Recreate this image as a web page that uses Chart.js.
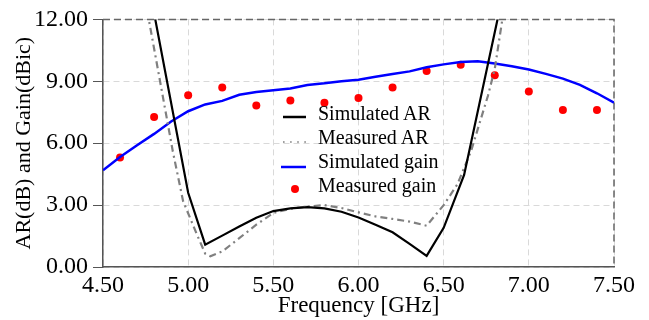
<!DOCTYPE html>
<html>
<head>
<meta charset="utf-8">
<script src="https://cdn.jsdelivr.net/npm/chart.js@4.4.1/dist/chart.umd.min.js"></script>
<style>
  body { margin: 0; background: #fff; }
  #wrap { position: relative; width: 649px; height: 320px; }
  #legend { position: absolute; left: 280px; top: 101px; font: 20px "Liberation Serif", "Times New Roman", serif; color: #000; }
  #legend .row { position: relative; height: 24px; line-height: 24px; padding-left: 38px; white-space: nowrap; }
  #legend svg { position: absolute; left: 0; top: 0; }
</style>
</head>
<body>
<div id="wrap">
  <canvas id="arChart" width="649" height="320"></canvas>
  <div id="legend"></div>
</div>
<script>
// values (frequency in GHz)
const simArFreq = [4.80, 5.00, 5.10, 5.20, 5.30, 5.40, 5.50, 5.60, 5.70, 5.80, 5.90, 6.00, 6.10, 6.20, 6.30, 6.40, 6.50, 6.62, 6.85];
const simArVal  = [12.3, 3.60, 1.08, 1.52, 1.96, 2.39, 2.71, 2.84, 2.90, 2.84, 2.68, 2.40, 2.05, 1.68, 1.12, 0.54, 1.90, 4.46, 13.3];

const measArFreq = [4.76, 4.91, 4.97, 5.05, 5.10, 5.13, 5.20, 5.30, 5.40, 5.50, 5.60, 5.70, 5.80, 5.90, 6.00, 6.10, 6.20, 6.30, 6.40, 6.50, 6.58, 6.66, 6.76, 6.80, 6.85];
const measArVal  = [12.4, 5.60, 3.20, 1.60, 0.65, 0.52, 0.75, 1.40, 2.05, 2.62, 2.82, 2.93, 3.00, 2.86, 2.65, 2.45, 2.33, 2.20, 2.00, 3.00, 4.00, 5.60, 8.30, 9.60, 12.3];

const simGainFreq = [4.50, 4.60, 4.70, 4.80, 4.90, 5.00, 5.10, 5.20, 5.30, 5.40, 5.50, 5.60, 5.70, 5.80, 5.90, 6.00, 6.10, 6.20, 6.30, 6.40, 6.50, 6.60, 6.70, 6.80, 6.90, 7.00, 7.10, 7.20, 7.30, 7.40, 7.50];
const simGainVal  = [4.69, 5.33, 5.90, 6.45, 7.05, 7.55, 7.88, 8.05, 8.35, 8.48, 8.57, 8.65, 8.82, 8.90, 9.00, 9.08, 9.22, 9.35, 9.48, 9.68, 9.82, 9.93, 9.97, 9.86, 9.73, 9.57, 9.36, 9.13, 8.83, 8.42, 7.97];

const measGainFreq = [4.6, 4.8, 5.0, 5.2, 5.4, 5.6, 5.8, 6.0, 6.2, 6.4, 6.6, 6.8, 7.0, 7.2, 7.4];
const measGainVal  = [5.31, 7.27, 8.32, 8.70, 7.83, 8.07, 7.96, 8.19, 8.70, 9.50, 9.80, 9.29, 8.50, 7.61, 7.61];

const xTicks = [4.5, 5.0, 5.5, 6.0, 6.5, 7.0, 7.5];
const yTicks = [0, 3, 6, 9, 12];

const serif = '"Liberation Serif", "Times New Roman", serif';
const toPts = (xs, ys) => xs.map((x, i) => ({ x: x, y: ys[i] }));

// dashed top and right edges of the plot box
const frameEdges = {
  id: 'frameEdges',
  beforeDatasetsDraw(chart) {
    const { ctx, chartArea: a } = chart;
    ctx.save();
    ctx.strokeStyle = '#666';
    ctx.lineWidth = 1.5;
    ctx.setLineDash([7, 4]);
    ctx.beginPath();
    ctx.moveTo(a.left, a.top);
    ctx.lineTo(a.right, a.top);
    ctx.lineTo(a.right, a.bottom);
    ctx.stroke();
    ctx.restore();
  }
};

const chart = new Chart(document.getElementById('arChart'), {
  type: 'scatter',
  data: {
    datasets: [
      { label: 'Simulated AR', data: toPts(simArFreq, simArVal), showLine: true, borderColor: '#000', borderWidth: 2.2, pointRadius: 0, tension: 0 },
      { label: 'Measured AR', data: toPts(measArFreq, measArVal), showLine: true, borderColor: '#808080', borderWidth: 2.2, borderDash: [7, 4, 2, 4], pointRadius: 0, tension: 0 },
      { label: 'Simulated gain', data: toPts(simGainFreq, simGainVal), showLine: true, borderColor: '#0000ff', borderWidth: 2.5, pointRadius: 0, tension: 0 },
      { label: 'Measured gain', data: toPts(measGainFreq, measGainVal), showLine: false, pointRadius: 4, pointBackgroundColor: '#ff0000', pointBorderWidth: 0, borderColor: '#ff0000' }
    ]
  },
  options: {
    responsive: false,
    animation: false,
    devicePixelRatio: 1,
    layout: { padding: { top: 15, right: 35, left: 0, bottom: 0 } },
    plugins: { legend: { display: false }, tooltip: { enabled: false } },
    scales: {
      x: {
        type: 'linear', min: 4.5, max: 7.5,
        afterBuildTicks: s => { s.ticks = xTicks.map(v => ({ value: v })); },
        afterFit: s => { s.height = 53; },
        ticks: { callback: v => v.toFixed(2), font: { family: serif, size: 24 }, color: '#000', padding: 4, maxRotation: 0, autoSkip: false },
        grid: { color: '#d9d9d9', lineWidth: 1, drawTicks: false },
        border: { color: '#555', width: 1.5, dash: [6, 4] },
        title: { display: true, text: 'Frequency [GHz]', font: { family: serif, size: 23 }, color: '#000', padding: { top: 0, bottom: 0 } }
      },
      y: {
        type: 'linear', min: 0, max: 12,
        afterBuildTicks: s => { s.ticks = yTicks.map(v => ({ value: v })); },
        afterFit: s => { s.width = 103; },
        ticks: { callback: v => v.toFixed(2), font: { family: serif, size: 24 }, color: '#000', padding: 5, crossAlign: 'near' },
        grid: { color: '#d9d9d9', lineWidth: 1, tickLength: 10, tickColor: '#555', tickWidth: 1 },
        border: { color: '#555', width: 1.5, dash: [6, 4] },
        title: { display: true, text: 'AR(dB) and Gain(dBic)', font: { family: serif, size: 22 }, color: '#000', padding: { top: 11, bottom: 0 } }
      }
    }
  },
  plugins: [frameEdges]
});

// legend inside the plot, built from the datasets
const markers = [
  '<line x1="3" y1="16" x2="26" y2="16" stroke="#000" stroke-width="2.5"/>',
  '<line x1="3" y1="17" x2="27" y2="17" stroke="#808080" stroke-width="1.6" stroke-dasharray="1.6 5.5"/>',
  '<line x1="1" y1="18" x2="26" y2="18" stroke="#0000ff" stroke-width="2.5"/>',
  '<circle cx="15" cy="16" r="4" fill="#ff0000"/>'
];
document.getElementById('legend').innerHTML = chart.data.datasets.map((ds, i) =>
  `<div class="row"><svg width="36" height="24">${markers[i]}</svg>${ds.label}</div>`
).join('');
</script>
</body>
</html>
